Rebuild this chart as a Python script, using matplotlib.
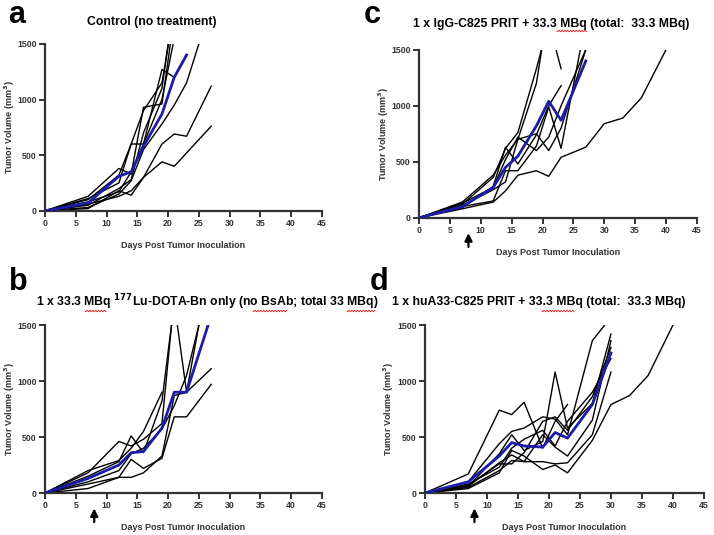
import numpy as np
import matplotlib
matplotlib.use("Agg")
import matplotlib.pyplot as plt
from matplotlib.lines import Line2D

plt.rcParams['font.family'] = ['Liberation Sans', 'DejaVu Sans']
plt.rcParams['font.weight'] = 'bold'
plt.rcParams['mathtext.default'] = 'bf'

# ---- data ----
# panel a: control
a_days = [[0, 7, 12, 14, 16, 19, 21],
          [0, 7, 12, 14, 16, 19, 21, 23],
          [0, 7, 12, 14, 16, 19, 21],
          [0, 7, 12, 14, 16, 19, 21],
          [0, 7, 12, 14, 16, 19, 21, 23, 25],
          [0, 7, 12, 14, 16, 19, 21, 23, 27],
          [0, 7, 12, 14, 16, 19, 21, 23, 27],
          [0, 7, 12, 14, 16, 19, 21]]
a_vol = [[0, 130, 380, 330, 930, 960, 1750],
         [0, 100, 320, 600, 600, 1270, 1200, 1400],
         [0, 50, 200, 280, 700, 1100, 1900],
         [0, 80, 170, 350, 600, 1000, 1550],
         [0, 30, 150, 270, 550, 780, 950, 1150, 1500],
         [0, 20, 180, 140, 300, 600, 690, 670, 1120],
         [0, 60, 130, 180, 300, 440, 400, 520, 760],
         [0, 110, 250, 600, 900, 1150, 1800]]
a_mean_days = [0, 7, 12, 14, 16, 19, 21, 23]
a_mean = [0, 70, 310, 350, 580, 870, 1200, 1400]

# panel c: IgG-C825 PRIT
c_days = [[0, 7, 12, 14, 16, 19, 21],
          [0, 7, 12, 14, 16, 19, 21, 23],
          [0, 7, 12, 14, 16, 19, 21, 23],
          [0, 7, 12, 14, 16, 19, 21, 23, 27, 30, 33, 36, 40],
          [0, 7, 12, 14, 16, 19, 21, 23, 27],
          [0, 7, 12, 14, 16, 19, 21, 23, 27],
          [0, 7, 12, 14, 16, 19, 21, 23, 27]]
c_vol = [[0, 140, 380, 560, 700, 1200, 1900],
         [0, 120, 360, 620, 760, 1330, 1750, 1330],
         [0, 90, 280, 630, 480, 740, 1000, 1180],
         [0, 80, 140, 240, 380, 420, 370, 540, 630, 840, 890, 1070, 1500],
         [0, 100, 150, 420, 420, 640, 990, 620, 1750],
         [0, 130, 270, 520, 720, 600, 720, 1000, 1500],
         [0, 110, 250, 320, 700, 750, 600, 800, 1500]]
c_mean_days = [0, 7, 12, 14, 16, 19, 21, 23, 27]
c_mean = [0, 100, 270, 450, 550, 820, 1040, 870, 1400]

# panel b: 177Lu-DOTA-Bn only
b_days = [[0, 7, 12, 14, 16, 19],
          [0, 7, 12, 14, 16, 19, 21],
          [0, 7, 12, 14, 16, 19, 21, 23, 25],
          [0, 7, 12, 14, 16, 19, 21, 23, 27],
          [0, 7, 12, 14, 16, 19, 21, 23, 27],
          [0, 7, 12, 14, 16, 19, 21, 23, 25]]
b_vol = [[0, 200, 290, 400, 550, 900],
         [0, 180, 460, 420, 480, 620, 1750],
         [0, 150, 280, 510, 360, 820, 1700, 900, 1500],
         [0, 80, 140, 300, 220, 310, 680, 680, 970],
         [0, 40, 140, 140, 180, 330, 870, 900, 1110],
         [0, 100, 200, 350, 400, 570, 780, 1050, 1500]]
b_mean_days = [0, 7, 12, 14, 16, 19, 21, 23, 26.5]
b_mean = [0, 130, 250, 360, 370, 580, 900, 900, 1500]

# panel d: huA33-C825 PRIT
d_days = [[0, 7, 12, 14, 16, 19, 21, 23],
          [0, 7, 12, 14, 16, 19, 21, 23, 27, 29],
          [0, 7, 12, 14, 16, 19, 21, 23, 27, 30],
          [0, 7, 12, 14, 16, 19, 21, 23, 27, 30],
          [0, 7, 12, 14, 16, 19, 21, 23, 27, 30, 33, 36, 40],
          [0, 7, 12, 14, 16, 19, 21, 23, 27, 30],
          [0, 7, 12, 14, 16, 19, 21, 23, 27, 30],
          [0, 7, 12, 14, 16, 19, 21, 23, 27, 30]]
d_vol = [[0, 170, 740, 700, 810, 400, 640, 790],
         [0, 100, 440, 550, 580, 680, 660, 520, 1360, 1500],
         [0, 60, 350, 520, 380, 460, 1080, 580, 800, 1420],
         [0, 50, 200, 290, 280, 280, 260, 270, 520, 1080],
         [0, 40, 180, 380, 330, 210, 250, 180, 470, 790, 870, 1050, 1500],
         [0, 60, 270, 340, 280, 520, 410, 330, 650, 1360],
         [0, 70, 260, 260, 360, 640, 680, 560, 860, 1300],
         [0, 80, 230, 400, 480, 560, 420, 640, 900, 1200]]
d_mean_days = [0, 7, 12, 14, 16, 19, 21, 23, 27, 30]
d_mean = [0, 100, 330, 450, 420, 410, 540, 490, 790, 1250]

titles = ["Control (no treatment)",
          "1 x IgG-C825 PRIT + 33.3 MBq (total:  33.3 MBq)",
          "1 x 33.3 MBq $^{177}$Lu-DOTA-Bn only (no BsAb; total 33 MBq)",
          "1 x huA33-C825 PRIT + 33.3 MBq (total:  33.3 MBq)"]

# spell-check squiggles under some words (figure pixels: x0, x1, y from top)
squiggles = [(557, 587, 31), (85, 106, 311), (253, 287, 311), (347, 375, 311), (542, 574, 311)]

W, H = 714, 535
fig = plt.figure(figsize=(7.14, 5.35), dpi=100)

panels = [
    ("a", [0.063, 0.606, 0.388, 0.312], a_days, a_vol, a_mean_days, a_mean, False, (0.213, 0.958), (0.012, 0.972), -0.100),
    ("c", [0.587, 0.593, 0.389, 0.314], c_days, c_vol, c_mean_days, c_mean, True, (0.772, 0.955), (0.510, 0.972), -0.102),
    ("b", [0.063, 0.0785, 0.388, 0.314], b_days, b_vol, b_mean_days, b_mean, True, (0.290, 0.435), (0.012, 0.472), -0.100),
    ("d", [0.595, 0.0785, 0.391, 0.314], d_days, d_vol, d_mean_days, d_mean, True, (0.755, 0.435), (0.518, 0.472), -0.102),
]

for i, (letter, rect, days, vols, mdays, mvol, arrow, tpos, lpos, ylx) in enumerate(panels):
    ax = fig.add_axes(rect)
    for dd, vv in zip(days, vols):
        ax.plot(dd, vv, color="black", lw=1.0)
    ax.plot(mdays, mvol, color="#1c1ca8", lw=2.0, zorder=5)
    ax.set_xlim(0, 45)
    ax.set_ylim(0, 1500)
    ax.set_xticks(range(0, 46, 5))
    ax.set_yticks([0, 500, 1000, 1500])
    for s in ["top", "right"]:
        ax.spines[s].set_visible(False)
    for s in ["left", "bottom"]:
        ax.spines[s].set_linewidth(1.6)
        ax.spines[s].set_color("#333333")
    ax.tick_params(direction="out", length=4, width=1.4, labelsize=6.3, pad=2, colors="#333333")
    for lab in ax.get_xticklabels() + ax.get_yticklabels():
        lab.set_fontweight("bold")
        lab.set_color("#333333")
    ax.set_xlabel("Days Post Tumor Inoculation", fontsize=6.5, fontweight="bold", color="#333333")
    ax.xaxis.set_label_coords(0.5, -0.18)
    ax.set_ylabel("Tumor Volume (mm$^3$)", fontsize=6.5, fontweight="bold", color="#333333")
    ax.yaxis.set_label_coords(ylx, 0.5)
    if arrow:
        ax.annotate("", xy=(8, -0.075), xytext=(8, -0.19),
                    xycoords=("data", "axes fraction"),
                    textcoords=("data", "axes fraction"),
                    arrowprops=dict(arrowstyle="-|>", color="black", lw=1.6,
                                    mutation_scale=11),
                    annotation_clip=False)
    fig.text(tpos[0], tpos[1], titles[i], ha="center", va="center",
             fontsize=8.8, fontweight="bold")
    fig.text(lpos[0], lpos[1], letter, ha="left", va="center",
             fontsize=22, fontweight="bold")

for x0, x1, yt in squiggles:
    xs = np.linspace(x0, x1, 60)
    ys = yt + 0.8 * np.sin((xs - x0) * 2.2)
    fig.add_artist(Line2D(xs / W, 1 - ys / H, color="#e02020", lw=0.6,
                          transform=fig.transFigure))

fig.savefig("out.png", dpi=100)
